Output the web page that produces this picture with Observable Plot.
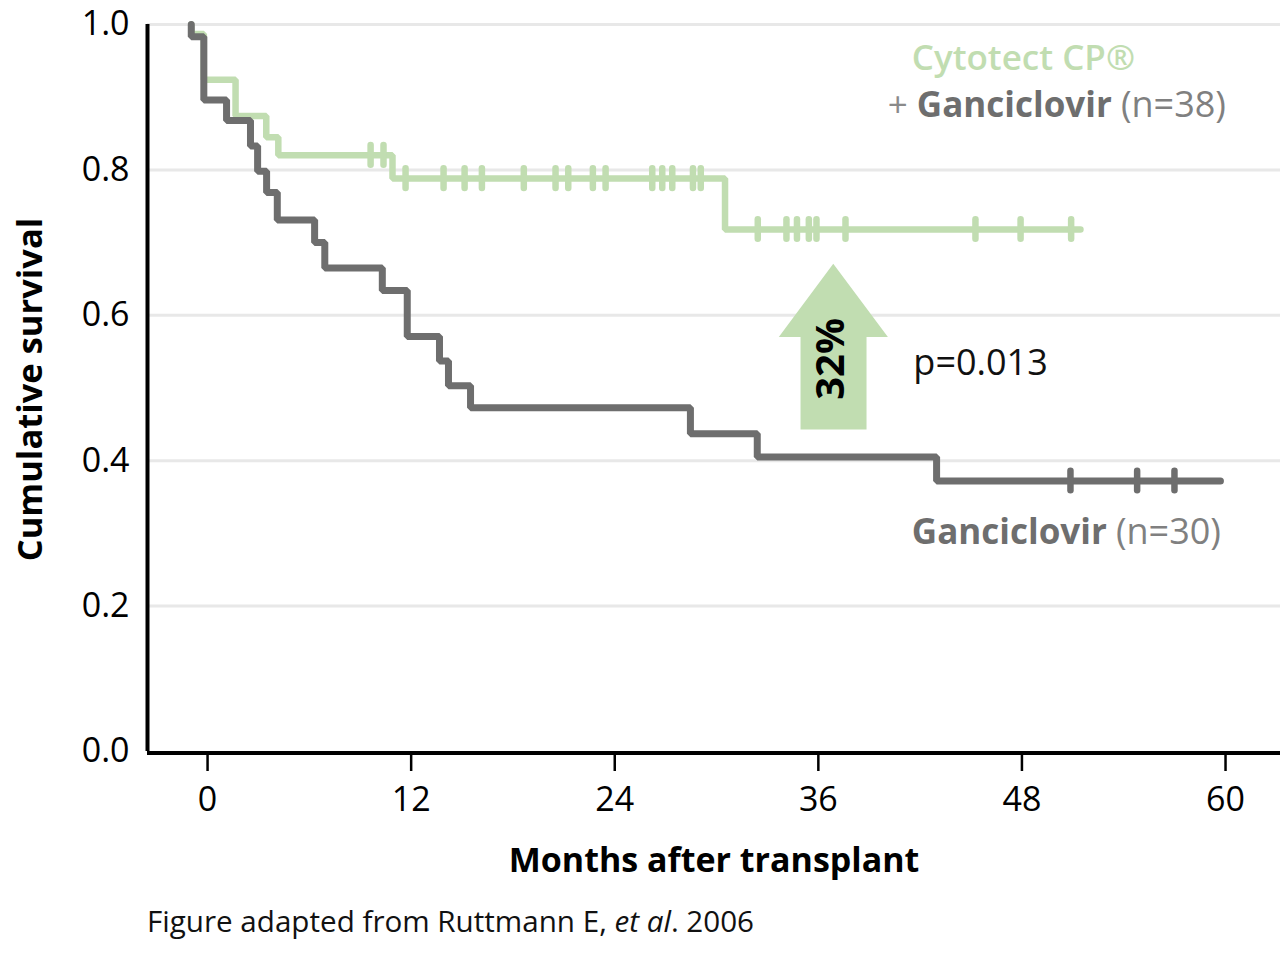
<!DOCTYPE html>
<html>
<head>
<meta charset="utf-8">
<script src="https://cdn.jsdelivr.net/npm/d3@7"></script>
<script src="https://cdn.jsdelivr.net/npm/@observablehq/plot@0.6"></script>
<style>
  html, body { margin: 0; padding: 0; background: #fff; overflow: hidden; }
  body { font-family: "Open Sans", sans-serif; }
  #wrap { position: relative; width: 1280px; height: 955px; }
  .lbl { position: absolute; white-space: nowrap; font-size: 35px; line-height: 35px; }
  .caption { position: absolute; left: 147px; top: 906px; font-size: 29.6px; line-height: 30px; color: #111; white-space: nowrap; }
</style>
</head>
<body>
<div id="wrap"></div>
<script>
// ---------- data ----------
const xTicks = [0, 12, 24, 36, 48, 60];
const yTicks = [0, 0.2, 0.4, 0.6, 0.8, 1.0];
const gridVals = [0.2, 0.4, 0.6, 0.8, 1.0];
const xDomain = [-3.54, 63.24];

// Cytotect CP + Ganciclovir (n=38): step times (months) and cumulative survival
const cytoTime = [-0.96, -0.96, -0.22, 1.65, 3.46, 4.17, 10.9, 30.5, 51.45];
const cytoSurv = [1.0, 0.987, 0.924, 0.874, 0.845, 0.820, 0.788, 0.718, 0.718];
const cytoCensor = [9.61, 10.37, 11.67, 13.91, 15.15, 16.17, 18.64, 20.51, 21.26, 22.71, 23.46,
  26.21, 26.80, 27.39, 28.61, 29.07, 32.43, 34.12, 34.74, 35.44, 35.89, 37.60, 45.26, 47.92, 50.90];

// Ganciclovir (n=30)
const ganTime = [-0.96, -0.96, -0.22, 1.12, 2.53, 2.95, 3.48, 4.11, 6.31, 6.91, 10.30, 11.77,
  13.67, 14.20, 15.50, 28.46, 32.40, 42.97, 59.7];
const ganSurv = [1.0, 0.983, 0.896, 0.868, 0.833, 0.798, 0.769, 0.731, 0.700, 0.665, 0.634, 0.571,
  0.537, 0.503, 0.473, 0.437, 0.405, 0.372, 0.372];
const ganCensor = [50.86, 54.79, 56.99];

// Arrow annotation (+32%)
const arrowX = [36.88, 40.10, 38.84, 38.84, 34.95, 34.95, 33.67, 36.88];
const arrowY = [0.671, 0.570, 0.570, 0.443, 0.443, 0.570, 0.570, 0.671];
const arrowLabel = ["32%"];
const arrowLabelPos = [36.78, 0.540];
const pLabel = ["p=0.013"];
const pLabelPos = [41.6, 0.534];

// ---------- styles ----------
const GREEN = "#c1ddb1";
const GRAY = "#6e6e6e";
const TICK_HALF = 0.0135;

function stepAt(times, survs, t) {
  let s = survs[0];
  for (let i = 0; i < times.length; i++) if (times[i] <= t) s = survs[i];
  return s;
}
const cytoLine = cytoTime.map((t, i) => ({t, s: cytoSurv[i]}));
const ganLine = ganTime.map((t, i) => ({t, s: ganSurv[i]}));
const cytoTicks = cytoCensor.map(t => ({t, s: stepAt(cytoTime, cytoSurv, t)}));
const ganTicks = ganCensor.map(t => ({t, s: stepAt(ganTime, ganSurv, t)}));
const arrow = arrowX.map((x, i) => ({x, y: arrowY[i]}));

const chart = Plot.plot({
  width: 1280,
  height: 890,
  marginLeft: 147,
  marginRight: 0,
  marginTop: 24,
  marginBottom: 139,
  x: {domain: xDomain, label: null},
  y: {domain: [0, 1], label: null},
  style: {fontFamily: "Open Sans, sans-serif", fontSize: "34px", overflow: "visible", background: "white", color: "#000"},
  marks: [
    Plot.ruleY(gridVals, {stroke: "#e8e8e8", strokeWidth: 3}),
    Plot.line(arrow, {x: "x", y: "y", fill: GREEN, stroke: "none"}),
    Plot.text(arrowLabel, {x: () => arrowLabelPos[0], y: () => arrowLabelPos[1], rotate: -90, fontSize: 40, fontWeight: "bold", fill: "#000"}),
    Plot.text(pLabel, {x: () => pLabelPos[0], y: () => pLabelPos[1], textAnchor: "start", fontSize: 36, fill: "#111"}),
    Plot.line(cytoLine, {x: "t", y: "s", curve: "step-after", stroke: GREEN, strokeWidth: 6.5, strokeLinecap: "round", strokeLinejoin: "miter"}),
    Plot.ruleX(cytoTicks, {x: "t", y1: d => d.s - TICK_HALF, y2: d => d.s + TICK_HALF, stroke: GREEN, strokeWidth: 6.5, strokeLinecap: "round"}),
    Plot.line(ganLine, {x: "t", y: "s", curve: "step-after", stroke: GRAY, strokeWidth: 7, strokeLinecap: "round", strokeLinejoin: "miter"}),
    Plot.ruleX(ganTicks, {x: "t", y1: d => d.s - TICK_HALF, y2: d => d.s + TICK_HALF, stroke: GRAY, strokeWidth: 6.5, strokeLinecap: "round"}),
    Plot.ruleY([0], {stroke: "#000", strokeWidth: 4, dy: 1.5}),
    Plot.ruleX([xDomain[0]], {y1: 0, y2: 1, stroke: "#000", strokeWidth: 4}),
    Plot.axisX({ticks: xTicks, tickSize: 20, tickPadding: 15, strokeWidth: 2.5, fontSize: 34, label: null}),
    Plot.axisY({ticks: yTicks, tickSize: 0, tickPadding: 18, tickFormat: d3.format(".1f"), fontSize: 34, label: null}),
    Plot.text(["Cumulative survival"], {frameAnchor: "left", textAnchor: "middle", dx: -117, dy: 1.5, rotate: -90, fontSize: 34.5, fontWeight: "bold", fill: "#000"}),
    Plot.text(["Months after transplant"], {frameAnchor: "bottom", dy: 120, fontSize: 34, fontWeight: "bold", fill: "#000"})
  ]
});

const wrap = document.getElementById("wrap");
wrap.appendChild(chart);

function addLabel(html, style) {
  const d = document.createElement("div");
  d.className = "lbl";
  d.innerHTML = html;
  Object.assign(d.style, style);
  wrap.appendChild(d);
}
addLabel(`<span style="color:${GREEN};font-weight:600">Cytotect CP®</span>`, {right: "145px", top: "39px"});
addLabel(`<span style="color:#8a8a8a">+ </span><span style="color:${GRAY};font-weight:700">Ganciclovir</span>&nbsp;<span style="color:#808080;font-size:36px">(n=38)</span>`, {right: "54px", top: "86px"});
addLabel(`<span style="color:${GRAY};font-weight:700">Ganciclovir</span>&nbsp;<span style="color:#808080;font-size:36px">(n=30)</span>`, {right: "59px", top: "513px"});

const cap = document.createElement("div");
cap.className = "caption";
cap.innerHTML = "Figure adapted from Ruttmann E, <i>et al</i>. 2006";
wrap.appendChild(cap);
</script>
</body>
</html>
